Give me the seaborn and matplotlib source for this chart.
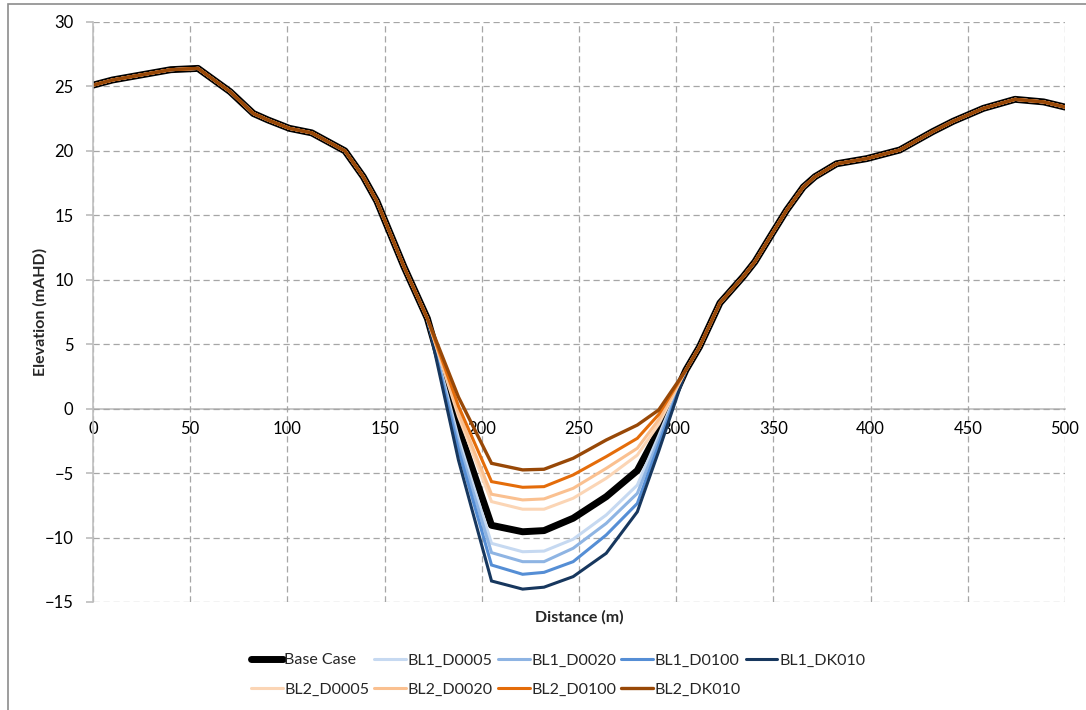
import numpy as np
import pandas as pd
import matplotlib
matplotlib.use("Agg")
import matplotlib.pyplot as plt
import seaborn as sns
from matplotlib.patches import Rectangle

# ---------------- data ----------------
# shared profile outside the trough
x_left = [0, 10, 25, 40, 54, 70.5, 82.5, 90, 101, 112.5, 129.6, 139, 146, 160]
y_left = [25.1, 25.5, 25.9, 26.3, 26.4, 24.6, 22.9, 22.4, 21.75, 21.4, 20.0, 18.0, 16.1, 11.0]

# trough section (x values shared by all series)
x_trough = [172, 188, 205, 221, 232, 247, 264, 280, 291, 305]
base_case = [7.0, -1.5, -9.05, -9.55, -9.46, -8.5, -6.83, -4.8, -1.7, 3.0]
bl1_d0005 = [7.0, -2.3, -10.45, -11.1, -11.05, -10.13, -8.25, -5.93, -2.1, 3.0]
bl1_d0020 = [7.0, -2.7, -11.17, -11.87, -11.87, -10.83, -8.9, -6.57, -2.4, 3.0]
bl1_d0100 = [7.0, -3.2, -12.13, -12.85, -12.7, -11.87, -9.8, -7.35, -2.8, 3.0]
bl1_dk010 = [7.0, -4.0, -13.37, -14.0, -13.85, -13.03, -11.22, -8.0, -3.3, 3.0]
bl2_d0005 = [7.0, -0.6, -7.21, -7.8, -7.8, -6.95, -5.4, -3.6, -1.2, 3.0]
bl2_d0020 = [7.0, -0.3, -6.64, -7.08, -7.0, -6.18, -4.63, -3.07, -0.85, 3.0]
bl2_d0100 = [7.0, 0.2, -5.66, -6.1, -6.05, -5.14, -3.72, -2.3, -0.45, 3.0]
bl2_dk010 = [7.0, 0.9, -4.24, -4.75, -4.7, -3.85, -2.43, -1.27, -0.1, 3.0]

x_right = [312, 322.5, 334.5, 340.5, 349, 356.8, 365.4, 371.4, 382.5, 398, 415,
           432, 442.5, 458, 474.3, 489, 500]
y_right = [4.8, 8.2, 10.25, 11.4, 13.5, 15.4, 17.2, 18.0, 19.0, 19.4, 20.07,
           21.5, 22.3, 23.3, 24.0, 23.8, 23.4]

series_names = ["Base Case", "BL1_D0005", "BL1_D0020", "BL1_D0100", "BL1_DK010",
                "BL2_D0005", "BL2_D0020", "BL2_D0100", "BL2_DK010"]
series_trough = [base_case, bl1_d0005, bl1_d0020, bl1_d0100, bl1_dk010,
                 bl2_d0005, bl2_d0020, bl2_d0100, bl2_dk010]
colors = ["#000000", "#C6D9F1", "#8EB4E3", "#558ED5", "#17375E",
          "#FBD5B5", "#FAC090", "#E46C0A", "#984807"]
widths = [5.0, 2.2, 2.2, 2.2, 2.2, 2.2, 2.2, 2.2, 2.4]

rows = []
for name, tr in zip(series_names, series_trough):
    xs = x_left + x_trough + x_right
    ys = y_left + tr + y_right
    for xv, yv in zip(xs, ys):
        rows.append({"Distance": xv, "Elevation": yv, "Series": name})
df = pd.DataFrame(rows)

# ---------------- plot ----------------
sns.set_theme(style="white")
plt.rcParams["font.family"] = ["Lato", "DejaVu Sans"]

fig = plt.figure(figsize=(10.86, 7.10), dpi=100)
ax = fig.add_axes([93 / 1086, 1 - 602 / 710, (1065 - 93) / 1086, (602 - 22) / 710])

handles = {}
for name, c, w in zip(series_names, colors, widths):
    sub = df[df["Series"] == name]
    sns.lineplot(data=sub, x="Distance", y="Elevation", ax=ax, color=c,
                 linewidth=w, sort=False, estimator=None, label=name,
                 solid_joinstyle="miter" if name != "Base Case" else "round",
                 legend=False)
    handles[name] = ax.lines[-1]

ax.set_xlim(0, 500)
ax.set_ylim(-15, 30)
ax.set_xticks(np.arange(0, 501, 50))
ax.set_yticks(np.arange(-15, 31, 5))
ax.grid(True, linestyle=(0, (5, 3)), color="#A6A6A6", linewidth=0.9)
ax.set_axisbelow(True)

for s in ["top", "right"]:
    ax.spines[s].set_visible(False)
ax.spines["left"].set_color("#BFBFBF")
ax.spines["left"].set_linewidth(1.2)
ax.spines["bottom"].set_position(("data", 0))
ax.spines["bottom"].set_color("#BFBFBF")
ax.spines["bottom"].set_linewidth(1.2)
ax.spines["bottom"].set_zorder(0.5)

ax.tick_params(axis="y", which="major", length=5, color="#BFBFBF", labelsize=12,
               labelcolor="#000000", pad=9, left=True)
ax.tick_params(axis="x", which="major", length=0, labelsize=12,
               labelcolor="#000000", pad=9)

ax.set_xlabel("")
ax.set_ylabel("")
fig.text(40 / 1086, 1 - 312 / 710, "Elevation (mAHD)", rotation=90, ha="center",
         va="center", fontsize=11.5, fontweight="bold")
fig.text(579 / 1086, 1 - 617 / 710, "Distance (m)", ha="center", va="center",
         fontsize=11.5, fontweight="bold")

order = ["Base Case", "BL2_D0005", "BL1_D0005", "BL2_D0020", "BL1_D0020",
         "BL2_D0100", "BL1_D0100", "BL2_DK010", "BL1_DK010"]
leg = fig.legend([handles[n] for n in order], order, ncol=5,
                 loc="center", bbox_to_anchor=(558 / 1086, 1 - 675 / 710),
                 frameon=False, fontsize=11.5, handlelength=2.0, handletextpad=0.1,
                 columnspacing=0.3, labelspacing=0.95)

# chart-area border (only left and top visible in the crop)
fig.patches.append(Rectangle((8 / 1086, -0.1), 1.2, 1 - 4 / 710 + 0.1,
                             transform=fig.transFigure, fill=False,
                             edgecolor="#8C8C8C", linewidth=1.2))

fig.savefig("out.png", dpi=100)
